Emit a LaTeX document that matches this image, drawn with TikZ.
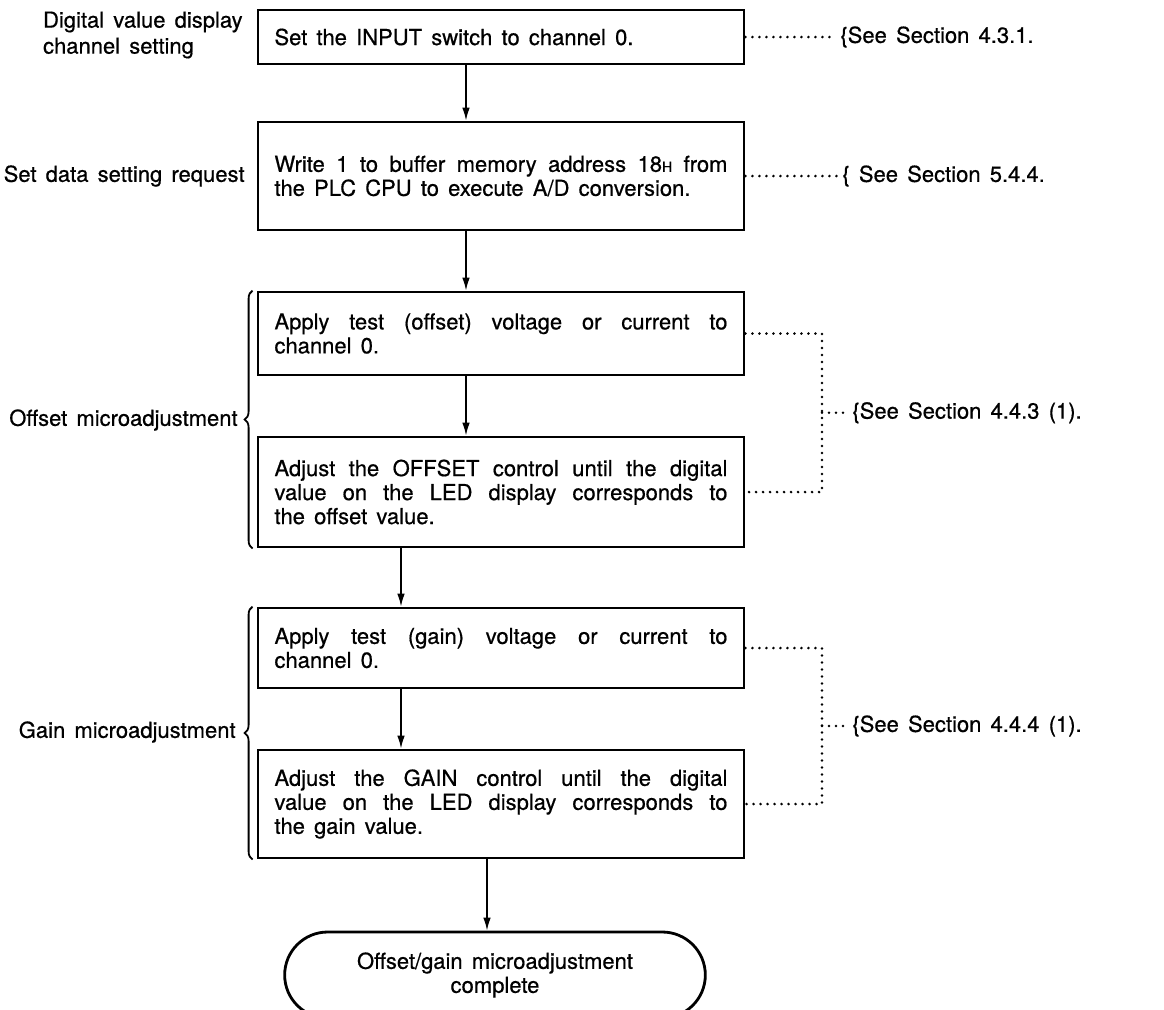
\documentclass[tikz,border=0pt]{standalone}
\usepackage{fontspec}
\setmainfont{TeX Gyre Heros}[WordSpace=1.5, FakeBold=0.6]
\usetikzlibrary{arrows.meta,shapes.misc,decorations.pathreplacing}

\begin{document}
\begin{tikzpicture}[
    x=0.5pt, y=-0.5pt,
    font=\fontsize{11}{12}\selectfont,
    process box/.style={draw, line width=1.4pt, minimum width=243pt, text width=226.5pt,
        inner xsep=8.25pt, inner ysep=0pt, align=justify},
    terminal box/.style={draw, line width=1.4pt, rounded rectangle, minimum width=217pt,
        minimum height=43pt, inner ysep=0pt, align=center},
    side label/.style={anchor=east, align=left, inner sep=0pt},
    ref label/.style={anchor=west, inner xsep=2pt, inner ysep=0pt},
    dotline/.style={line width=1.4pt, dash pattern=on 0pt off 3.5pt, line cap=round},
    group brace/.style={decorate, decoration={brace, amplitude=4pt}, line width=0.9pt},
    >={Latex[length=6.5pt, width=3.8pt]}
]
\useasboundingbox (0,0) rectangle (1164,1009);

% Steps
\node[process box, minimum height=27pt] (S-1) at (501,37) {Set the INPUT switch to channel 0.};
\node[process box, minimum height=54pt] (S-2) at (501,176) {Write 1 to buffer memory address 18{\fontsize{7}{7}\selectfont H} from\linebreak the PLC CPU to execute A/D conversion.};
\node[process box, minimum height=41.5pt] (S-3) at (501,333.5) {Apply test (offset) voltage or current to\linebreak channel 0.};
\node[process box, minimum height=55pt] (S-4) at (501,492) {Adjust the OFFSET control until the digital\linebreak value on the LED display corresponds to\linebreak the offset value.};
\node[process box, minimum height=40pt] (S-5) at (501,648) {Apply test (gain) voltage or current to\linebreak channel 0.};
\node[process box, minimum height=54pt] (S-6) at (501,804) {Adjust the GAIN control until the digital\linebreak value on the LED display corresponds to\linebreak the gain value.};
\node[terminal box] (E) at (495,975) {Offset/gain microadjustment\\complete};

% Flow
\foreach \a/\b/\s in {1/2/-17.5, 2/3/-17.5, 3/4/-17.5, 4/5/-50, 5/6/-50} {
    \draw[->, line width=0.8pt] ([xshift=\s pt]S-\a.south) -- ([xshift=\s pt]S-\b.north);
}
\draw[->, line width=0.8pt] ([xshift=-7pt]S-6.south) -- ([xshift=-7pt]S-6.south |- E.north);

% Left side labels
\node[side label, font=\fontsize{11}{13}\selectfont] (L-1) at (243,35) {Digital value display\\channel setting};
\node[side label] (L-2) at (245,176) {Set data setting request};
\node[side label] (L-3) at (238,420) {Offset microadjustment};
\node[side label] (L-4) at (236,732) {Gain microadjustment};

\draw[group brace] ([xshift=-2pt]S-4.south west) -- ([xshift=-2pt]S-3.north west);
\draw[group brace] ([xshift=-2pt]S-6.south west) -- ([xshift=-2pt]S-5.north west);

% References
\node[ref label] (R-1) at (836,37) {\{See Section 4.3.1.};
\node[ref label] (R-2) at (838,176) {\{ See Section 5.4.4.};
\coordinate (K-3) at (822,412.75);
\coordinate (K-5) at (822,726);
\node[ref label] (R-3) at (848,412.75) {\{See Section 4.4.3 (1).};
\node[ref label] (R-4) at (848,726) {\{See Section 4.4.4 (1).};

\draw[dotline] (S-1) -- (R-1);
\draw[dotline] (S-2) -- (R-2);
\draw[dotline] (S-3.east) -| (K-3) |- (S-4.east);
\draw[dotline] (K-3) -- (R-3);
\draw[dotline] (S-5.east) -| (K-5) |- (S-6.east);
\draw[dotline] (K-5) -- (R-4);

\end{tikzpicture}
\end{document}
